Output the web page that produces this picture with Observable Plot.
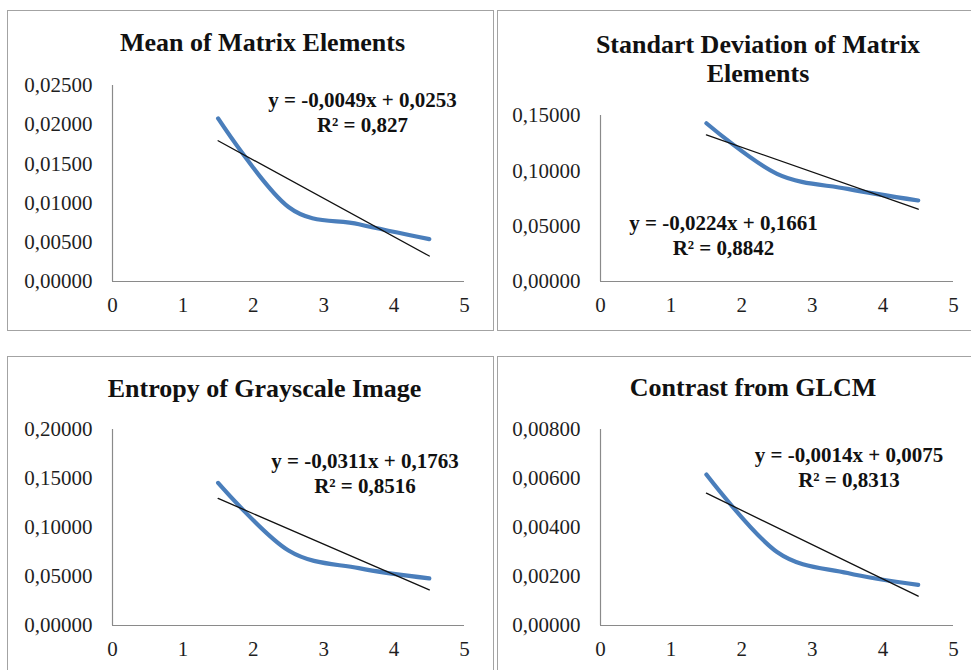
<!DOCTYPE html>
<html>
<head>
<meta charset="utf-8">
<script src="https://cdn.jsdelivr.net/npm/d3@7"></script>
<script src="https://cdn.jsdelivr.net/npm/@observablehq/plot@0.6"></script>
<style>
  html, body { margin: 0; padding: 0; background: #fff; }
  #page { position: relative; width: 971px; height: 670px; overflow: hidden; background: #fff;
          font-family: 'Liberation Serif', 'Times New Roman', serif; color: #1a1a1a; }
  .box { position: absolute; box-sizing: border-box; border: 1.5px solid #a3a3a3; }
  .title { position: absolute; font-family: 'Liberation Serif', serif; font-weight: bold; font-size: 26px; text-align: center; white-space: nowrap;
           transform: translate(-50%, 0); color: #111; }
  .eq { position: absolute; font-family: 'Liberation Serif', serif; font-weight: bold; font-size: 21px; line-height: 25px; text-align: center;
        white-space: nowrap; transform: translate(-50%, 0); color: #111; }
  .chart { position: absolute; }
  .chart text { font-family: 'Liberation Serif', serif; }
</style>
</head>
<body>
<div id="page"></div>
<script>
// ---- data ----
const xValues = [1.5, 2.5, 3.5, 4.5];
const xTicks = [0, 1, 2, 3, 4, 5];

const titles = ["Mean of Matrix Elements", "Standart Deviation of Matrix\nElements", "Entropy of Grayscale Image", "Contrast from GLCM"];

const meanValues = [0.0208, 0.0095, 0.0073, 0.0054];
const stdValues = [0.1430, 0.0973, 0.0837, 0.0732];
const entropyValues = [0.1455, 0.0765, 0.0585, 0.0480];
const contrastValues = [0.00616, 0.00300, 0.00214, 0.00166];

const slopes = [-0.0049, -0.0224, -0.0311, -0.0014];
const intercepts = [0.0253, 0.1661, 0.1763, 0.0075];
const rSquared = [0.827, 0.8842, 0.8516, 0.8313];

const yTicksMean = [0, 0.005, 0.010, 0.015, 0.020, 0.025];
const yTicksStd = [0, 0.05, 0.10, 0.15];
const yTicksEntropy = [0, 0.05, 0.10, 0.15, 0.20];
const yTicksContrast = [0, 0.002, 0.004, 0.006, 0.008];

// ---- layout ----
const page = document.getElementById("page");
const panels = [
  {values: meanValues, ticks: yTicksMean, box: [7, 10, 487, 321],
   svg: {left: 0, top: 60, width: 490, height: 270, ml: 112, mr: 26, mt: 25, mb: 49},
   title: {x: 262.5, y: 30, lh: 26}, eq: {x: 362.5, y: 88}},
  {values: stdValues, ticks: yTicksStd, box: [497, 10, 490, 321],
   svg: {left: 497, top: 90, width: 474, height: 240, ml: 103, mr: 18, mt: 25, mb: 49},
   title: {x: 758, y: 30, lh: 29}, eq: {x: 723.5, y: 210.5}},
  {values: entropyValues, ticks: yTicksEntropy, box: [7, 356, 487, 330],
   svg: {left: 0, top: 400, width: 490, height: 270, ml: 112, mr: 26, mt: 29, mb: 45},
   title: {x: 264.5, y: 376, lh: 26}, eq: {x: 365, y: 449}},
  {values: contrastValues, ticks: yTicksContrast, box: [497, 356, 490, 330],
   svg: {left: 497, top: 400, width: 474, height: 270, ml: 103, mr: 18, mt: 29, mb: 45},
   title: {x: 753, y: 375, lh: 26}, eq: {x: 849, y: 443}}
];

const comma = (v, n) => v.toFixed(n).replace(".", ",");

panels.forEach((p, i) => {
  const box = document.createElement("div");
  box.className = "box";
  Object.assign(box.style, {left: p.box[0] + "px", top: p.box[1] + "px", width: p.box[2] + "px", height: p.box[3] + "px"});
  page.appendChild(box);

  const data = xValues.map((x, k) => ({x, y: p.values[k]}));
  const xs = [xValues[0], xValues[xValues.length - 1]];
  const trend = xs.map(x => ({x, y: slopes[i] * x + intercepts[i]}));
  const s = p.svg;

  const chart = Plot.plot({
    width: s.width, height: s.height,
    marginLeft: s.ml, marginRight: s.mr, marginTop: s.mt, marginBottom: s.mb,
    style: {fontFamily: "'Liberation Serif', serif", fontSize: "21px", color: "#1f1f1f", background: "transparent", overflow: "visible"},
    x: {domain: [0, 5], ticks: xTicks, tickSize: 0, tickPadding: 16, tickFormat: d => String(d), label: null},
    y: {domain: [0, p.ticks[p.ticks.length - 1]], ticks: p.ticks, tickSize: 0, tickPadding: 20, tickFormat: d => comma(d, 5), label: null},
    marks: [
      Plot.ruleX([0], {stroke: "#8a8a8a", strokeWidth: 1.2}),
      Plot.ruleY([0], {stroke: "#8a8a8a", strokeWidth: 1.2}),
      Plot.line(data, {x: "x", y: "y", curve: "cardinal", stroke: "#4a7ebb", strokeWidth: 4.2, strokeLinecap: "round"}),
      Plot.line(trend, {x: "x", y: "y", stroke: "#111", strokeWidth: 1.3})
    ]
  });
  chart.classList.add("chart");
  chart.style.left = s.left + "px";
  chart.style.top = s.top + "px";
  page.appendChild(chart);

  const t = document.createElement("div");
  t.className = "title";
  t.style.left = p.title.x + "px";
  t.style.top = p.title.y + "px";
  t.style.lineHeight = p.title.lh + "px";
  t.innerHTML = titles[i].split("\n").map(l => `<div>${l}</div>`).join("");
  page.appendChild(t);

  const e = document.createElement("div");
  e.className = "eq";
  e.style.left = p.eq.x + "px";
  e.style.top = p.eq.y + "px";
  const sign = intercepts[i] >= 0 ? "+" : "-";
  e.innerHTML = `<div>y = ${comma(slopes[i], 4)}x ${sign} ${comma(Math.abs(intercepts[i]), 4)}</div><div>R² = ${String(rSquared[i]).replace(".", ",")}</div>`;
  page.appendChild(e);
});
</script>
</body>
</html>
